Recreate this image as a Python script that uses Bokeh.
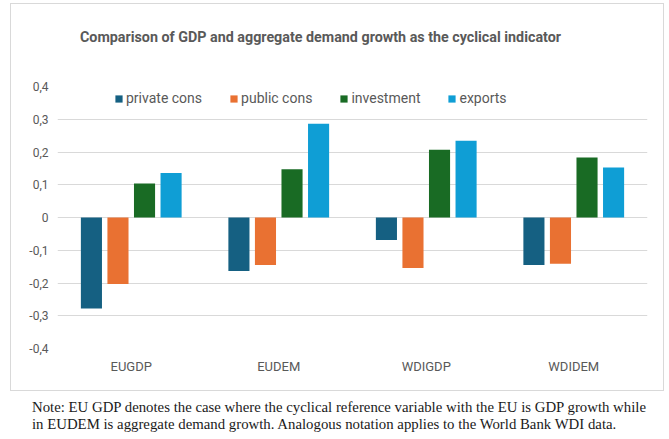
from bokeh.plotting import figure
from bokeh.models import ColumnDataSource, FixedTicker, Div
from bokeh.layouts import column
from bokeh.transform import dodge
from bokeh.embed import file_html
from bokeh.resources import INLINE

# dados do gráfico
categorias = ["EUGDP", "EUDEM", "WDIGDP", "WDIDEM"]
private_cons = [-0.278, -0.163, -0.069, -0.145]
public_cons = [-0.203, -0.145, -0.154, -0.141]
investment = [0.104, 0.147, 0.207, 0.183]
exports = [0.136, 0.286, 0.234, 0.153]
ticks_y = [-0.4, -0.3, -0.2, -0.1, 0, 0.1, 0.2, 0.3, 0.4]
rotulos_y = ["-0,4", "-0,3", "-0,2", "-0,1", "0", "0,1", "0,2", "0,3", "0,4"]

titulo = "Comparison of GDP and aggregate demand growth as the cyclical indicator"
nota = ("Note: EU GDP denotes the case where the cyclical reference variable with the EU is GDP growth while<br>"
        "in EUDEM is aggregate demand growth. Analogous notation applies to the World Bank WDI data.")

dados = ColumnDataSource(data=dict(cat=categorias, private=private_cons, public=public_cons,
                                   inv=investment, exp=exports))

cinza = "#595959"

grafico = figure(x_range=categorias, y_range=(-0.4, 0.4), width=652, height=336,
                 output_backend="svg", toolbar_location=None, tools="",
                 min_border_left=46, min_border_right=16, min_border_top=32, min_border_bottom=42)

# barras
series = [("private", "private cons", "#156082", -0.27),
          ("public", "public cons", "#E97132", -0.09),
          ("inv", "investment", "#196B24", 0.09),
          ("exp", "exports", "#0F9ED5", 0.27)]
for coluna, nome, cor, desloc in series:
    grafico.vbar(x=dodge("cat", desloc, range=grafico.x_range), top=coluna, bottom=0, width=0.143,
                 source=dados, fill_color=cor, line_color=None, legend_label=nome)

# eixos
grafico.yaxis.ticker = FixedTicker(ticks=ticks_y)
grafico.yaxis.major_label_overrides = {t: r for t, r in zip(ticks_y, rotulos_y)}
grafico.yaxis.axis_line_color = None
grafico.yaxis.major_tick_line_color = None
grafico.yaxis.minor_tick_line_color = None
grafico.yaxis.major_tick_out = 0
grafico.yaxis.major_label_text_font = "Roboto"
grafico.yaxis.major_label_text_font_size = "12px"
grafico.yaxis.major_label_text_color = cinza
grafico.yaxis.major_label_standoff = 9

grafico.xaxis.axis_line_color = None
grafico.xaxis.major_tick_line_color = None
grafico.xaxis.major_tick_out = 0
grafico.xaxis.major_label_text_font = "Roboto"
grafico.xaxis.major_label_text_font_size = "13px"
grafico.xaxis.major_label_text_color = cinza
grafico.xaxis.major_label_standoff = 10

# grade
grafico.xgrid.grid_line_color = None
grafico.ygrid.ticker = FixedTicker(ticks=ticks_y)
grafico.ygrid.grid_line_color = "#D9D9D9"
grafico.outline_line_color = None

# legenda
grafico.legend.orientation = "horizontal"
grafico.legend.location = (57, 242)
grafico.legend.background_fill_alpha = 0
grafico.legend.border_line_color = None
grafico.legend.padding = 0
grafico.legend.margin = 0
grafico.legend.spacing = 27
grafico.legend.glyph_width = 9
grafico.legend.glyph_height = 9
grafico.legend.label_standoff = 3
grafico.legend.label_text_font = "Roboto"
grafico.legend.label_text_font_size = "14px"
grafico.legend.label_text_color = cinza

# título como texto acima do gráfico
texto_titulo = Div(text=titulo, width=652, height=50, margin=(0, 0, 0, 0),
                   styles={"font-family": "Roboto", "font-weight": "bold", "font-size": "14.3px",
                           "line-height": "18px", "color": cinza, "padding-left": "69px",
                           "padding-top": "24px", "white-space": "nowrap"})

quadro = column(texto_titulo, grafico, spacing=0, margin=(3, 0, 0, 10),
                styles={"border": "1px solid #D9D9D9", "background-color": "white"})

texto_nota = Div(text=nota, width=652, height=40, margin=(0, 0, 0, 10),
                 styles={"font-family": "Liberation Serif", "font-size": "14.8px", "line-height": "16.5px",
                         "color": "#1a1a1a", "padding-left": "22px", "padding-top": "8px",
                         "white-space": "nowrap"})

pagina = column(quadro, texto_nota, spacing=0)

open("out.html", "w").write(file_html(pagina, INLINE))
